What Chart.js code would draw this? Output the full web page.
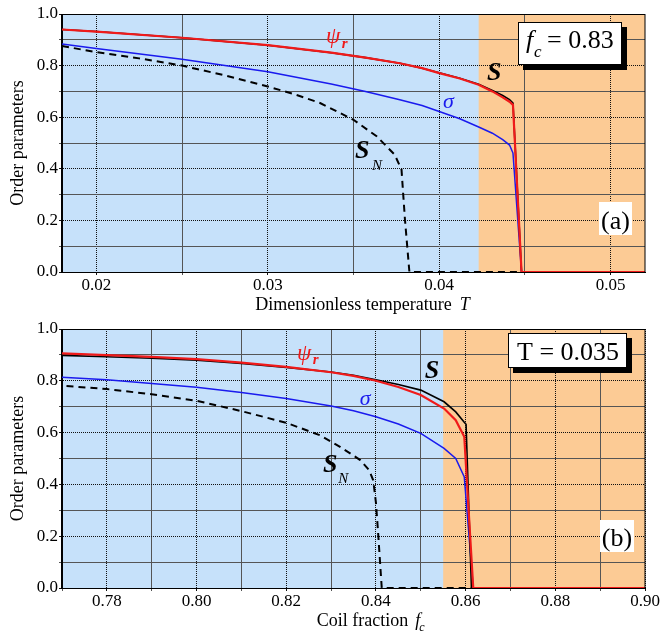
<!DOCTYPE html>
<html>
<head>
<meta charset="utf-8">
<script src="https://cdn.jsdelivr.net/npm/chart.js@4.4.1/dist/chart.umd.min.js"></script>
<style>
  html, body { margin: 0; padding: 0; background: #fff; }
  #wrap { position: relative; width: 661px; height: 636px; }
  canvas { position: absolute; left: 0; }
</style>
</head>
<body>
<div id="wrap">
  <canvas id="chart-a" width="661" height="320" style="top:0"></canvas>
  <canvas id="chart-b" width="661" height="326" style="top:310px"></canvas>
</div>
<script>
// panel (a): order parameters vs dimensionless temperature, fc = 0.83
const tempMain = [0.018, 0.020, 0.025, 0.030, 0.0337, 0.0357, 0.0377, 0.039, 0.040, 0.0412, 0.0423, 0.0431, 0.0437, 0.0441, 0.0443, 0.0448, 0.052];
const psiA     = [0.940, 0.932, 0.908, 0.879, 0.850, 0.831, 0.809, 0.790, 0.771, 0.750, 0.726, 0.700, 0.677, 0.660, 0.648, 0, 0];
const sA       = [0.940, 0.932, 0.908, 0.879, 0.850, 0.831, 0.809, 0.790, 0.772, 0.751, 0.728, 0.704, 0.684, 0.668, 0.655, 0, 0];
const sigmaA   = [0.884, 0.866, 0.825, 0.776, 0.729, 0.700, 0.668, 0.645, 0.622, 0.594, 0.562, 0.538, 0.513, 0.492, 0.461, 0, 0];
const tempSN   = [0.018, 0.020, 0.0225, 0.025, 0.0275, 0.030, 0.0315, 0.03305, 0.035, 0.03635, 0.0374, 0.0378, 0.0379, 0.0380, 0.03826, 0.052];
const snA      = [0.876, 0.852, 0.828, 0.800, 0.762, 0.719, 0.690, 0.655, 0.590, 0.526, 0.455, 0.397, 0.300, 0.204, 0, 0];
const bandA = 0.0423; // shading boundary

// panel (b): order parameters vs coil fraction, T = 0.035
const fracMain = [0.77, 0.78, 0.79, 0.80, 0.81, 0.82, 0.83, 0.835, 0.84, 0.845, 0.85, 0.8552, 0.8578, 0.8597, 0.8617, 0.90];
const psiB     = [0.906, 0.899, 0.892, 0.884, 0.870, 0.854, 0.833, 0.819, 0.800, 0.776, 0.745, 0.693, 0.648, 0.584, 0, 0];
const sigmaB   = [0.814, 0.804, 0.790, 0.775, 0.755, 0.732, 0.703, 0.684, 0.661, 0.633, 0.597, 0.539, 0.500, 0.429, 0, 0];
const fracS    = [0.77, 0.78, 0.79, 0.80, 0.81, 0.82, 0.83, 0.835, 0.84, 0.845, 0.85, 0.8552, 0.8578, 0.8597, 0.8601, 0.8613, 0.90];
const sB       = [0.898, 0.893, 0.887, 0.880, 0.867, 0.852, 0.834, 0.821, 0.804, 0.786, 0.764, 0.719, 0.680, 0.640, 0.632, 0, 0];
const fracSN   = [0.771, 0.78, 0.79, 0.80, 0.81, 0.82, 0.8275, 0.832, 0.8365, 0.8385, 0.8394, 0.8400, 0.8405, 0.8413, 0.90];
const snB      = [0.780, 0.768, 0.748, 0.723, 0.683, 0.638, 0.590, 0.545, 0.494, 0.455, 0.416, 0.330, 0.210, 0, 0];
const bandB = 0.855;

const SERIF = '"Liberation Serif", "Times New Roman", serif';
const BLUE_BG = '#c6e1fa', ORANGE_BG = '#fccb95';
const RED = '#f01a1a', BLUE = '#1a1aee', BLACK = '#000';

Chart.defaults.font.family = SERIF;
Chart.defaults.color = '#000';

const pts = (xs, ys) => xs.map((x, i) => ({x: x, y: ys[i]}));
const serif = size => ({family: SERIF, size: size});

function lines(xPsi, psi, xS, s, xSig, sig, xSN, sn) {
  const base = {pointRadius: 0, tension: 0, fill: false};
  return [
    Object.assign({label: 'ψr', data: pts(xPsi, psi), borderColor: RED, borderWidth: 2.2}, base),
    Object.assign({label: 'S', data: pts(xS, s), borderColor: BLACK, borderWidth: 1.6}, base),
    Object.assign({label: 'σ', data: pts(xSig, sig), borderColor: BLUE, borderWidth: 1.5}, base),
    Object.assign({label: 'SN', data: pts(xSN, sn), borderColor: BLACK, borderWidth: 2, borderDash: [7, 5]}, base)
  ];
}

function axes(xMin, xMax, xStep, xLabelled, xTitle) {
  const yLabelled = v => Math.round(v * 10) % 2 === 0;
  const gridColor = f => c => (c.tick && f(c.tick.value)) ? '#111' : '#555';
  const gridDash = f => c => (c.tick && f(c.tick.value)) ? [1, 1] : [];
  return {
    x: {
      type: 'linear', min: xMin, max: xMax,
      afterFit: s => { s.height = 44; },
      ticks: {
        stepSize: xStep, includeBounds: false, autoSkip: false, maxRotation: 0, padding: 0,
        font: serif(17),
        callback: v => xLabelled(v) ? v.toFixed(2) : ''
      },
      grid: {color: gridColor(xLabelled), lineWidth: 1, tickLength: 3},
      border: {color: '#000', width: 1, dash: gridDash(xLabelled)},
      title: {display: true, text: xTitle, font: serif(18), padding: {top: 0, bottom: 0}}
    },
    y: {
      min: 0, max: 1,
      afterFit: s => { s.width = 62; },
      ticks: {stepSize: 0.1, autoSkip: false, padding: 1, font: serif(17),
        callback: v => yLabelled(v) ? v.toFixed(1) : ''},
      grid: {color: gridColor(yLabelled), lineWidth: 1, tickLength: 3},
      border: {color: '#000', width: 1, dash: gridDash(yLabelled)},
      title: {display: true, text: 'Order parameters', font: serif(18), padding: {top: 7, bottom: 0}}
    }
  };
}

function text(ctx, str, x, y, font, color, align) {
  ctx.font = font + ' ' + SERIF;
  ctx.fillStyle = color || '#000';
  ctx.textAlign = align || 'left';
  ctx.textBaseline = 'alphabetic';
  ctx.fillText(str, x, y);
}

// shading, frame and in-plot annotations
function deco(cfg) {
  return {
    id: 'deco',
    beforeDraw(chart) {
      const {ctx, chartArea: a, scales: {x}} = chart;
      const xb = x.getPixelForValue(cfg.band);
      ctx.save();
      ctx.fillStyle = BLUE_BG;
      ctx.fillRect(a.left, a.top, a.right - a.left, a.bottom - a.top);
      ctx.fillStyle = ORANGE_BG;
      ctx.fillRect(xb, a.top, a.right - xb, a.bottom - a.top);
      ctx.restore();
    },
    afterDraw(chart) {
      const {ctx, chartArea: a, scales: {x, y}} = chart;
      ctx.save();
      ctx.strokeStyle = '#000';
      ctx.lineWidth = 1;
      ctx.strokeRect(Math.round(a.left) - 0.5, Math.round(a.top) + 0.5,
        Math.round(a.right - a.left) + 0.5, Math.round(a.bottom - a.top));

      cfg.labels.forEach(l => text(ctx, l.t, x.getPixelForValue(l.x), y.getPixelForValue(l.y), l.font, l.color));

      // value box with drop shadow
      const b = cfg.box;
      const bx = a.right - b.right - b.w, by = a.top + b.top;
      ctx.fillStyle = '#000';
      ctx.fillRect(bx + 5, by + 5, b.w, b.h);
      ctx.fillStyle = '#fff';
      ctx.fillRect(bx, by, b.w, b.h);
      ctx.strokeRect(bx + 0.5, by + 0.5, b.w - 1, b.h - 1);
      b.parts.forEach(p => text(ctx, p.t, bx + p.dx, by + p.dy, p.font));

      // panel tag
      const g = cfg.tag;
      const gx = a.right - g.right - g.w, gy = a.bottom - g.bottom - g.h;
      ctx.fillStyle = '#fff';
      ctx.fillRect(gx, gy, g.w, g.h);
      text(ctx, g.t, gx + g.w / 2, gy + g.h - 6, '26px', '#000', 'center');

      // italic symbol after the x-axis title
      ctx.font = '18px ' + SERIF;
      const tw = ctx.measureText(x.options.title.text).width;
      const cx = (a.left + a.right) / 2 + tw / 2 + cfg.sym.gap;
      const cy = x.bottom - 10.8;
      ctx.textBaseline = 'middle';
      ctx.font = 'italic 18px ' + SERIF;
      ctx.fillStyle = '#000';
      ctx.textAlign = 'left';
      ctx.fillText(cfg.sym.t, cx, cy);
      if (cfg.sym.sub) {
        const w = ctx.measureText(cfg.sym.t).width;
        ctx.font = 'italic 12px ' + SERIF;
        ctx.fillText(cfg.sym.sub, cx + w - 1, cy + 7);
      }
      ctx.restore();
    }
  };
}

new Chart(document.getElementById('chart-a'), {
  type: 'line',
  data: {datasets: lines(tempMain, psiA, tempMain, sA, tempMain, sigmaA, tempSN, snA)},
  options: {
    responsive: false, animation: false,
    layout: {padding: {left: 0, right: 16, top: 14, bottom: 4}},
    scales: axes(0.018, 0.052, 0.005, v => Math.round(v * 1000) % 10 === 0, 'Dimensionless temperature'),
    plugins: {legend: {display: false}, tooltip: {enabled: false}}
  },
  plugins: [deco({
    band: bandA,
    labels: [
      {t: 'ψ', x: 0.0334, y: 0.888, font: 'italic 23px', color: RED},
      {t: 'r', x: 0.03432, y: 0.869, font: 'italic bold 15px', color: RED},
      {t: 'S', x: 0.04279, y: 0.745, font: 'italic bold 26px', color: BLACK},
      {t: 'σ', x: 0.04022, y: 0.637, font: 'italic 22px', color: BLUE},
      {t: 'S', x: 0.03509, y: 0.44, font: 'italic bold 26px', color: BLACK},
      {t: 'N', x: 0.03608, y: 0.397, font: 'italic 15px', color: BLACK}
    ],
    box: {right: 23, top: 8, w: 104, h: 43, parts: [
      {t: 'f', dx: 8, dy: 26, font: 'italic 26px'},
      {t: 'c', dx: 16, dy: 35, font: 'italic 17px'},
      {t: '= 0.83', dx: 29, dy: 26, font: '26px'}
    ]},
    tag: {t: '(a)', right: 13, bottom: 37, w: 33, h: 33},
    sym: {t: 'T', gap: 8}
  })]
});

new Chart(document.getElementById('chart-b'), {
  type: 'line',
  data: {datasets: lines(fracMain, psiB, fracS, sB, fracMain, sigmaB, fracSN, snB)},
  options: {
    responsive: false, animation: false,
    layout: {padding: {left: 0, right: 16, top: 19, bottom: 4}},
    scales: axes(0.77, 0.90, 0.01, v => Math.round(v * 100) % 2 === 0, '    Coil fraction'),
    plugins: {legend: {display: false}, tooltip: {enabled: false}}
  },
  plugins: [deco({
    band: bandB,
    labels: [
      {t: 'ψ', x: 0.8224, y: 0.88, font: 'italic 23px', color: RED},
      {t: 'r', x: 0.8259, y: 0.865, font: 'italic bold 15px', color: RED},
      {t: 'S', x: 0.8509, y: 0.81, font: 'italic bold 26px', color: BLACK},
      {t: 'σ', x: 0.8364, y: 0.706, font: 'italic 22px', color: BLUE},
      {t: 'S', x: 0.8282, y: 0.447, font: 'italic bold 26px', color: BLACK},
      {t: 'N', x: 0.8316, y: 0.405, font: 'italic 15px', color: BLACK}
    ],
    box: {right: 18, top: 4, w: 119, h: 35, parts: [
      {t: 'T = 0.035', dx: 9, dy: 27, font: '26px'}
    ]},
    tag: {t: '(b)', right: 11, bottom: 36, w: 34, h: 32},
    sym: {t: 'f', sub: 'c', gap: 7}
  })]
});
</script>
</body>
</html>
